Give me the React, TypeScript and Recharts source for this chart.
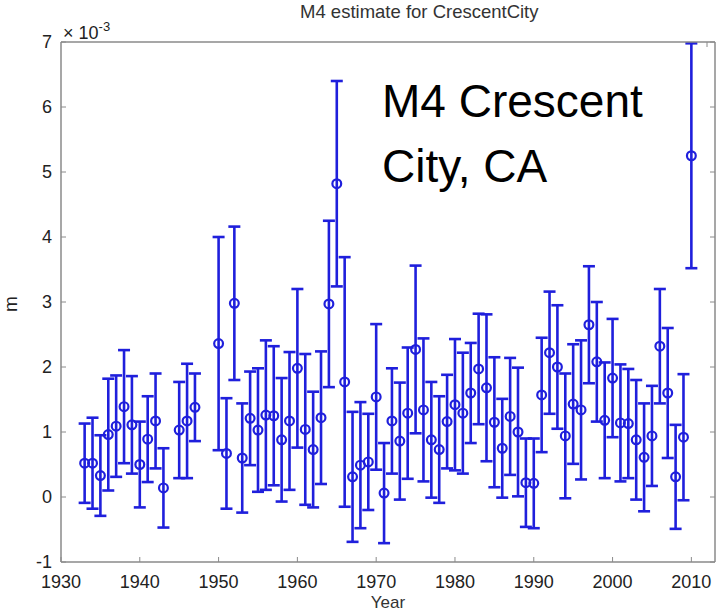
import { ComposedChart, Scatter, ErrorBar, XAxis, YAxis } from "recharts";

// yearly M4 amplitude estimates, in units of 1e-3 m
const years = [
  1933, 1934, 1935, 1936, 1937, 1938, 1939, 1940, 1941, 1942, 1943,
  1945, 1946, 1947,
  1950, 1951, 1952, 1953, 1954, 1955, 1956, 1957, 1958, 1959,
  1960, 1961, 1962, 1963, 1964, 1965, 1966, 1967, 1968, 1969,
  1970, 1971, 1972, 1973, 1974, 1975, 1976, 1977, 1978, 1979,
  1980, 1981, 1982, 1983, 1984, 1985, 1986, 1987, 1988, 1989,
  1990, 1991, 1992, 1993, 1994, 1995, 1996, 1997, 1998, 1999,
  2000, 2001, 2002, 2003, 2004, 2005, 2006, 2007, 2008, 2009, 2010,
];
const m4 = [
  0.52, 0.52, 0.33, 0.96, 1.09, 1.39, 1.11, 0.5, 0.89, 1.17, 0.14,
  1.03, 1.17, 1.38,
  2.36, 0.67, 2.98, 0.6, 1.21, 1.03, 1.26, 1.25, 0.88, 1.17,
  1.98, 1.04, 0.73, 1.22, 2.97, 4.82, 1.77, 0.31, 0.49, 0.54,
  1.54, 0.06, 1.17, 0.86, 1.29, 2.27, 1.34, 0.88, 0.73, 1.16,
  1.42, 1.29, 1.6, 1.97, 1.68, 1.15, 0.75, 1.24, 1.0, 0.22,
  0.21, 1.57, 2.22, 2.0, 0.94, 1.43, 1.34, 2.65, 2.08, 1.18,
  1.83, 1.14, 1.13, 0.88, 0.61, 0.94, 2.32, 1.6, 0.31, 0.92, 5.25,
];
const m4Err = [
  0.61, 0.7, 0.62, 0.86, 0.78, 0.87, 0.75, 0.66, 0.66, 0.73, 0.61,
  0.74, 0.88, 0.52,
  1.64, 0.85, 1.18, 0.84, 0.72, 0.95, 1.15, 1.07, 0.95, 1.06,
  1.22, 1.16, 0.89, 1.02, 1.28, 1.58, 1.92, 1.0, 0.97, 0.74,
  1.12, 0.77, 0.81, 0.9, 1.01, 1.29, 1.1, 0.89, 0.82, 0.72,
  1.01, 0.93, 0.77, 0.85, 1.13, 1.0, 0.76, 0.9, 0.99, 0.68,
  0.69, 0.88, 0.94, 0.95, 0.96, 0.92, 1.07, 0.9, 0.92, 0.89,
  0.91, 0.9, 0.84, 0.92, 0.83, 0.77, 0.88, 1.0, 0.8, 0.97, 1.73,
];

const xTicks = [1930, 1940, 1950, 1960, 1970, 1980, 1990, 2000, 2010];
const yTicks = [-1, 0, 1, 2, 3, 4, 5, 6, 7];

const BLUE = "#1f1fdc";
const AXIS = "#8a8a8a";
const FONT = "'Liberation Sans', Arial, Helvetica, sans-serif";

const data = years.map((year, i) => ({ year, m4: m4[i], err: m4Err[i] }));

// MATLAB-style ticks: short marks pointing into the box, labels outside
const BottomTick = ({ x, y, payload }: any) => (
  <g>
    <line x1={x} y1={y} x2={x} y2={y - 5} stroke={AXIS} />
    <text x={x} y={y + 26} textAnchor="middle" fontSize={18} fill="#222" fontFamily={FONT}>
      {payload.value}
    </text>
  </g>
);

const LeftTick = ({ x, y, payload }: any) => (
  <g>
    <line x1={x} y1={y} x2={x + 5} y2={y} stroke={AXIS} />
    <text x={x - 9} y={y + 6} textAnchor="end" fontSize={18} fill="#222" fontFamily={FONT}>
      {payload.value}
    </text>
  </g>
);

const TopTick = ({ x, y }: any) => <line x1={x} y1={y} x2={x} y2={y + 5} stroke={AXIS} />;
const RightTick = ({ x, y }: any) => <line x1={x} y1={y} x2={x - 5} y2={y} stroke={AXIS} />;

const Marker = ({ cx, cy }: any) => (
  <circle cx={cx} cy={cy} r={4.4} fill="none" stroke={BLUE} strokeWidth={2.2} />
);

export default function App() {
  return (
    <div style={{ position: "absolute", left: 0, top: 0, width: 723, height: 614, background: "#fff", fontFamily: FONT }}>
      <ComposedChart width={723} height={614} data={data} margin={{ top: 40, right: 6, bottom: 22, left: 21 }}>
        <XAxis
          dataKey="year"
          type="number"
          domain={[1930, 2013]}
          ticks={xTicks}
          allowDataOverflow
          height={30}
          tickSize={0}
          tickMargin={0}
          tickLine={false}
          axisLine={{ stroke: AXIS, strokeWidth: 1.5 }}
          tick={BottomTick}
        />
        <XAxis
          xAxisId="top"
          orientation="top"
          type="number"
          domain={[1930, 2013]}
          ticks={xTicks}
          allowDataOverflow
          height={2}
          tickSize={0}
          tickMargin={0}
          tickLine={false}
          axisLine={{ stroke: AXIS, strokeWidth: 1.5 }}
          tick={TopTick}
        />
        <YAxis
          type="number"
          domain={[-1, 7]}
          ticks={yTicks}
          allowDataOverflow
          width={40}
          tickSize={0}
          tickMargin={0}
          tickLine={false}
          axisLine={{ stroke: AXIS, strokeWidth: 1.5 }}
          tick={LeftTick}
        />
        <YAxis
          yAxisId="right"
          orientation="right"
          type="number"
          domain={[-1, 7]}
          ticks={yTicks}
          allowDataOverflow
          width={2}
          tickSize={0}
          tickMargin={0}
          tickLine={false}
          axisLine={{ stroke: AXIS, strokeWidth: 1.5 }}
          tick={RightTick}
        />
        <Scatter dataKey="m4" fill={BLUE} shape={Marker} isAnimationActive={false}>
          <ErrorBar dataKey="err" direction="y" width={6} stroke={BLUE} strokeWidth={2.6} />
        </Scatter>
      </ComposedChart>

      <div style={{ position: "absolute", left: 300, top: 2, fontSize: 18.5, color: "#333", lineHeight: "20px", whiteSpace: "nowrap" }}>
        M4 estimate for CrescentCity
      </div>
      <div style={{ position: "absolute", left: 63, top: 17, fontSize: 18, color: "#222", lineHeight: "20px" }}>
        × 10<sup style={{ fontSize: 13, verticalAlign: "8px" }}>-3</sup>
      </div>
      <div
        style={{
          position: "absolute",
          left: 3,
          top: 294,
          fontSize: 19,
          color: "#222",
          transform: "rotate(-90deg)",
          lineHeight: "20px",
        }}
      >
        m
      </div>
      <div style={{ position: "absolute", left: 0, width: 776, top: 593, textAlign: "center", fontSize: 17, color: "#333", lineHeight: "20px" }}>
        Year
      </div>
      <div style={{ position: "absolute", left: 382, top: 69, fontSize: 46, color: "#000", lineHeight: "65px" }}>
        M4 Crescent
        <br />
        City, CA
      </div>
    </div>
  );
}
